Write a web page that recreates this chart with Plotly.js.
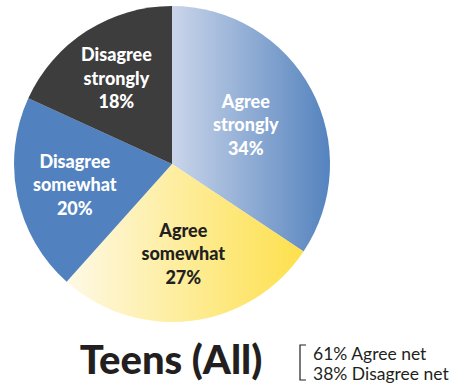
<!DOCTYPE html>
<html>
<head>
<meta charset="utf-8">
<script src="https://cdn.plot.ly/plotly-3.0.1.min.js"></script>
<style>html,body{margin:0;padding:0;background:#fff;}#chart{width:451px;height:387px;}</style>
</head>
<body>
<div id="chart"></div>
<script>
const labels = ["Agree<br>strongly", "Agree<br>somewhat", "Disagree<br>somewhat", "Disagree<br>strongly"];
const values = [34, 27, 20, 18];
const sliceColors = ["#8ea6cf", "#fdeaa0", "#5182bf", "#3d3d3d"];
const textColors = ["#ffffff", "#231f20", "#ffffff", "#ffffff"];
const chartTitle = "Teens (All)";
const netLines = ["61% Agree net", "38% Disagree net"];

const trace = {
  type: "pie",
  labels: labels,
  values: values,
  sort: false,
  direction: "clockwise",
  rotation: 0,
  marker: {colors: sliceColors, line: {width: 0}},
  texttemplate: "%{label}<br>%{value}%",
  textposition: "inside",
  insidetextorientation: "horizontal",
  insidetextfont: {family: "Lato, sans-serif", size: 18, weight: 900, color: textColors},
  hoverinfo: "none",
  showlegend: false,
  domain: {x: [14/451, 330/451], y: [1 - 322/387, 1 - 6/387]}
};

const layout = {
  width: 451, height: 387,
  margin: {l: 0, r: 0, t: 0, b: 0},
  paper_bgcolor: "#ffffff",
  showlegend: false,
  title: {
    text: chartTitle,
    font: {family: "Lato, sans-serif", size: 40, weight: 900, color: "#231f20"},
    x: 171/451, xanchor: "center",
    y: 1 - 360/387, yanchor: "middle",
    xref: "paper", yref: "paper"
  },
  annotations: [
    {text: netLines[0], x: 311/451, y: 1 - 353/387, xref: "paper", yref: "paper",
     xanchor: "left", yanchor: "middle", showarrow: false,
     font: {family: "Lato, sans-serif", size: 17.5, color: "#231f20"}},
    {text: netLines[1], x: 311/451, y: 1 - 373/387, xref: "paper", yref: "paper",
     xanchor: "left", yanchor: "middle", showarrow: false,
     font: {family: "Lato, sans-serif", size: 17.5, color: "#231f20"}}
  ],
  shapes: [
    {type: "path", xref: "paper", yref: "paper",
     path: "M " + (306/451) + "," + (1 - 345/387) + " L " + (300/451) + "," + (1 - 345/387) +
           " L " + (300/451) + "," + (1 - 380/387) + " L " + (306/451) + "," + (1 - 380/387),
     line: {color: "#231f20", width: 1.2}}
  ]
};

Plotly.newPlot("chart", [trace], layout, {staticPlot: true, displayModeBar: false}).then(function(gd){
  const svg = gd.querySelector(".main-svg");
  const NS = "http://www.w3.org/2000/svg";
  let defs = svg.querySelector("defs");
  if (!defs) { defs = document.createElementNS(NS, "defs"); svg.insertBefore(defs, svg.firstChild); }
  function grad(id, stops) {
    const g = document.createElementNS(NS, "linearGradient");
    g.setAttribute("id", id);
    g.setAttribute("x1", "0"); g.setAttribute("y1", "0");
    g.setAttribute("x2", "1"); g.setAttribute("y2", "0");
    stops.forEach(function(s){
      const st = document.createElementNS(NS, "stop");
      st.setAttribute("offset", s[0]);
      st.setAttribute("stop-color", s[1]);
      g.appendChild(st);
    });
    defs.appendChild(g);
  }
  grad("gAgreeStrong", [["0", "#cad5ea"], ["1", "#5483be"]]);
  grad("gAgreeSome", [["0", "#fef9e6"], ["1", "#fde04c"]]);
  const paths = gd.querySelectorAll("g.slice path.surface");
  if (paths[0]) paths[0].style.fill = "url(#gAgreeStrong)";
  if (paths[1]) paths[1].style.fill = "url(#gAgreeSome)";
});
</script>
</body>
</html>
